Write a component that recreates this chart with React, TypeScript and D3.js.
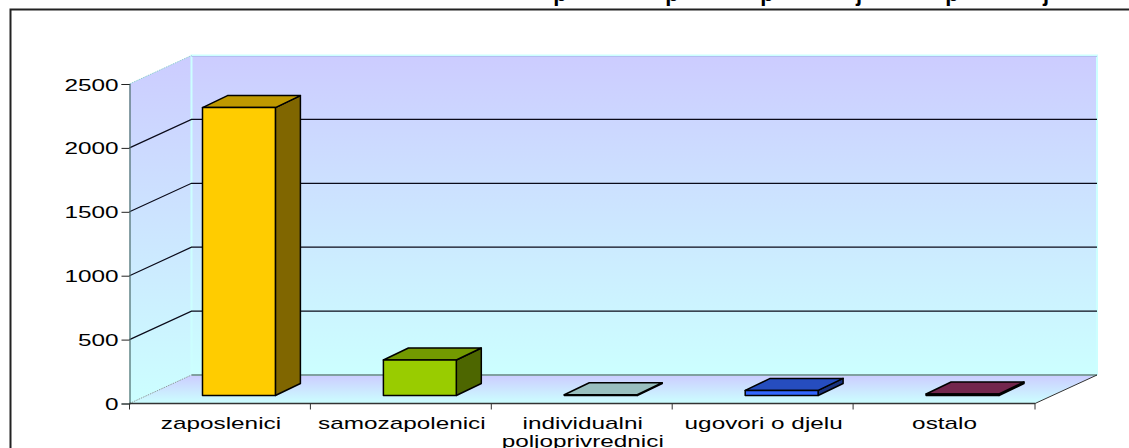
import React, { useEffect, useRef } from 'react';
import * as d3 from 'd3';

const categories = ['zaposlenici', 'samozapolenici', 'individualni poljoprivrednici', 'ugovori o djelu', 'ostalo'];
const values = [2253, 278, 6, 40, 12];
const barColors = ['#FFCC00', '#99CC00', '#CCFFFF', '#3366FF', '#993366'];
const yTicks = [0, 500, 1000, 1500, 2000, 2500];
// the title is cut off by the top of the picture, only these descenders show
const titleGlyphs = ['p', 'p', 'p', 'j', 'p', 'j'];
const titleGlyphX = [560, 672, 767, 859, 952, 1046];

const FONT = '"Liberation Sans", Arial, sans-serif';
const WIDTH = 1129;
const HEIGHT = 448;
const STRETCH = 1.52;

const polygon = (pts: number[][]) => pts.map(p => p.join(',')).join(' ');

const App = () => {
    const ref = useRef<SVGSVGElement>(null);

    useEffect(() => {
        const svg = d3.select(ref.current);
        svg.selectAll('*').remove();

        const left = 129.5, right = 1035, bottom = 403.5, top = 84;
        const depthX = 62, depthY = -28.5;

        const x = d3.scaleBand<string>().domain(categories).range([left, 1034]);
        const y = d3.scaleLinear().domain([0, 2500]).range([bottom, top]);

        const defs = svg.append('defs');
        const gradient = (id: string) => {
            const g = defs.append('linearGradient').attr('id', id).attr('x1', 0).attr('y1', 0).attr('x2', 0).attr('y2', 1);
            g.append('stop').attr('offset', 0).attr('stop-color', '#CCCCFF');
            g.append('stop').attr('offset', 1).attr('stop-color', '#CCFFFF');
        };
        gradient('wallFill');
        gradient('floorFill');

        svg.append('rect').attr('width', WIDTH).attr('height', HEIGHT).attr('fill', '#fff');

        // clipped title
        svg.append('g')
            .selectAll('text')
            .data(titleGlyphs)
            .enter().append('text')
            .attr('x', (d, i) => titleGlyphX[i])
            .attr('y', 0.5)
            .attr('text-anchor', 'middle')
            .attr('font-family', FONT)
            .attr('font-weight', 'bold')
            .attr('font-size', 22)
            .text(d => d);

        // outer frame, runs off the right and the bottom
        svg.append('path')
            .attr('d', `M${WIDTH},9.5H10.5V${HEIGHT}`)
            .attr('fill', 'none')
            .attr('stroke', '#222')
            .attr('stroke-width', 2);

        // side wall, back wall, floor
        svg.append('polygon')
            .attr('points', polygon([[left, top], [left + depthX, top + depthY], [left + depthX, bottom + depthY], [left, bottom]]))
            .attr('fill', 'url(#wallFill)');
        svg.append('rect')
            .attr('x', left + depthX).attr('y', top + depthY)
            .attr('width', right - left).attr('height', bottom - top)
            .attr('fill', 'url(#wallFill)');
        svg.append('polygon')
            .attr('points', polygon([[left, bottom], [left + depthX, bottom + depthY], [right + depthX, bottom + depthY], [right, bottom]]))
            .attr('fill', 'url(#floorFill)');

        // wall edges
        svg.append('path')
            .attr('d', `M${left + depthX},${bottom + depthY}V${top + depthY}H${right + depthX}V${bottom + depthY}`)
            .attr('fill', 'none').attr('stroke', '#CCFFFF').attr('stroke-width', 2);
        svg.append('line')
            .attr('x1', left + depthX).attr('x2', right + depthX)
            .attr('y1', top + depthY + 1).attr('y2', top + depthY + 1)
            .attr('stroke', '#B4BDF0').attr('stroke-width', 1);
        svg.append('line')
            .attr('x1', left).attr('y1', top).attr('x2', left + depthX).attr('y2', top + depthY)
            .attr('stroke', '#8FD0D0').attr('stroke-dasharray', '1.5 1');
        svg.append('line')
            .attr('x1', left).attr('y1', bottom).attr('x2', left + depthX).attr('y2', bottom + depthY)
            .attr('stroke', '#8A9C9C').attr('stroke-dasharray', '1.5 1');
        svg.append('line')
            .attr('x1', left + depthX).attr('x2', right + depthX)
            .attr('y1', bottom + depthY).attr('y2', bottom + depthY)
            .attr('stroke', '#80A0A0').attr('stroke-width', 2);
        svg.append('line')
            .attr('x1', right).attr('y1', bottom).attr('x2', right + depthX).attr('y2', bottom + depthY)
            .attr('stroke', '#333').attr('stroke-width', 1);

        // gridlines on both walls
        const grid = svg.append('g').attr('fill', 'none').attr('stroke', '#0a0a1a').attr('stroke-width', 1.2);
        yTicks.filter(t => t > 0 && t < 2500).forEach(t => {
            grid.append('path')
                .attr('d', `M${left},${y(t)}L${left + depthX},${y(t) + depthY}H${right + depthX}`);
        });

        // bars
        const bw = x.bandwidth() * 0.403;
        const baseY = bottom - 8;
        const shiftX = 19;
        const barDX = 25, barDY = -12;
        const barY = (v: number) => baseY - (bottom - y(v));

        const bars = svg.append('g')
            .attr('stroke', '#000')
            .attr('stroke-width', 1.5)
            .attr('stroke-linejoin', 'round');
        categories.forEach((c, i) => {
            const x0 = (x(c) as number) + x.bandwidth() / 2 + shiftX - bw / 2;
            const x1 = x0 + bw;
            const t = barY(values[i]);
            const base = d3.color(barColors[i]) as d3.RGBColor;
            bars.append('polygon')
                .attr('points', polygon([[x1, t], [x1 + barDX, t + barDY], [x1 + barDX, baseY + barDY], [x1, baseY]]))
                .attr('fill', d3.rgb(base.r * 0.5, base.g * 0.5, base.b * 0.5).formatHex());
            bars.append('polygon')
                .attr('points', polygon([[x0, t], [x0 + barDX, t + barDY], [x1 + barDX, t + barDY], [x1, t]]))
                .attr('fill', d3.rgb(base.r * 0.75, base.g * 0.75, base.b * 0.75).formatHex());
            bars.append('rect')
                .attr('x', x0).attr('y', t)
                .attr('width', bw).attr('height', baseY - t)
                .attr('fill', barColors[i]);
        });

        // y axis
        const yAxis = svg.append('g')
            .attr('transform', `translate(${left},0)`)
            .call(d3.axisLeft(y).tickValues(yTicks).tickSize(8).tickFormat(d3.format('d')));
        yAxis.select('.domain').attr('stroke', '#4a6a6a').attr('stroke-width', 1.2);
        yAxis.selectAll('.tick line').attr('stroke', '#222');
        yAxis.selectAll('.tick text')
            .attr('x', 0).attr('dy', null)
            .attr('text-anchor', 'end')
            .attr('dominant-baseline', null)
            .attr('font-family', FONT)
            .attr('font-size', 16)
            .attr('fill', '#000')
            .attr('transform', `translate(-11,6) scale(${STRETCH},1)`);

        // x axis, ticks sit between the categories
        svg.append('line')
            .attr('x1', left).attr('x2', right)
            .attr('y1', bottom).attr('y2', bottom)
            .attr('stroke', '#333').attr('stroke-width', 1.4);
        const edges = [...categories.map(c => x(c) as number), right];
        svg.append('g')
            .selectAll('line')
            .data(edges)
            .enter().append('line')
            .attr('x1', d => d).attr('x2', d => d)
            .attr('y1', bottom).attr('y2', bottom + 6)
            .attr('stroke', '#333');

        const labels = svg.append('g')
            .attr('font-family', FONT)
            .attr('font-size', 16)
            .attr('text-anchor', 'middle')
            .attr('fill', '#000');
        categories.forEach(c => {
            const cx = (x(c) as number) + x.bandwidth() / 2 + 1;
            const lines = c === 'individualni poljoprivrednici' ? c.split(' ') : [c];
            lines.forEach((line, k) => {
                labels.append('text')
                    .attr('transform', `translate(${cx},${428.5 + k * 18.5}) scale(${STRETCH},1)`)
                    .text(line);
            });
        });
    }, []);

    return <svg ref={ref} width={WIDTH} height={HEIGHT} style={{ position: 'absolute', left: 0, top: 0 }} />;
};

export default App;
